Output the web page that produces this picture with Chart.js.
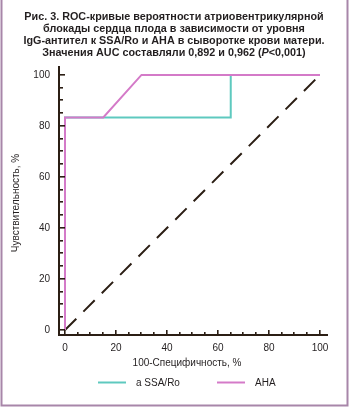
<!DOCTYPE html>
<html>
<head>
<meta charset="utf-8">
<script src="https://cdn.jsdelivr.net/npm/chart.js@4.4.1/dist/chart.umd.min.js"></script>
<style>
  html, body { margin: 0; padding: 0; background: #fff; }
  canvas { display: block; }
</style>
</head>
<body>
<canvas id="roc" width="350" height="408"></canvas>
<script>
// ROC curves: 100-specificity (x, %) vs sensitivity (y, %)
const fprSSA = [0, 0, 65, 65, 100];
const tprSSA = [0, 83.3, 83.3, 100, 100];
const fprAHA = [0, 0, 15, 30, 100];
const tprAHA = [0, 83.3, 83.3, 100, 100];
const refLine = [0, 100];

const seriesNames = ['a SSA/Ro', 'AHA'];
const tickValues = [0, 20, 40, 60, 80, 100];

const titleLines = [
  [['Рис. 3. ROC-кривые вероятности атриовентрикулярной', false]],
  [['блокады сердца плода в зависимости от уровня', false]],
  [['IgG-антител к SSA/Ro и AHA в сыворотке крови матери.', false]],
  [['Значения AUC составляли 0,892 и 0,962 (', false], ['P', true], ['<0,001)', false]]
];
const xTitle = '100-Специфичность, %';
const yTitle = 'Чувствительность, %';

const TEAL = '#5ec9bf';
const PINK = '#d47ac8';
const INK = '#231f20';
const AXIS = '#2b1e14';
const FRAME = '#a886a9';
const FONT = '"Liberation Sans", Arial, sans-serif';

const toPoints = (xs, ys) => xs.map((x, i) => ({ x: x, y: ys[i] }));

const decor = {
  id: 'decor',
  afterDraw(chart) {
    const ctx = chart.ctx;
    const xs = chart.scales.x, ys = chart.scales.y;
    const area = chart.chartArea;
    ctx.save();

    // inward tick marks every 5 units
    ctx.fillStyle = AXIS;
    for (let v = 0; v <= 100; v += 5) {
      const major = v % 20 === 0;
      const py = Math.round(ys.getPixelForValue(v));
      ctx.fillRect(area.left, py - 1, major ? 6 : 4, 1.6);
      const px = Math.round(xs.getPixelForValue(v));
      const lenX = major ? 5 : 3;
      ctx.fillRect(px - 1, area.bottom - lenX, 1.6, lenX);
    }

    // figure title
    ctx.fillStyle = INK;
    ctx.textBaseline = 'middle';
    ctx.textAlign = 'left';
    const cx = 174;
    const titleFont = it => (it ? 'italic ' : '') + 'bold 10.8px ' + FONT;
    titleLines.forEach((segs, i) => {
      const y = 17 + i * 12;
      let total = 0;
      const widths = segs.map(([t, it]) => {
        ctx.font = titleFont(it);
        const w = ctx.measureText(t).width;
        total += w;
        return w;
      });
      let x = cx - total / 2;
      segs.forEach(([t, it], k) => {
        ctx.font = titleFont(it);
        ctx.fillText(t, x, y);
        x += widths[k];
      });
    });

    // axis titles
    ctx.font = '10px ' + FONT;
    ctx.textAlign = 'center';
    ctx.fillText(xTitle, 187, 363);
    ctx.save();
    ctx.translate(16, 203);
    ctx.rotate(-Math.PI / 2);
    ctx.fillText(yTitle, 0, 0);
    ctx.restore();

    // legend
    const legendItems = [
      { ds: chart.data.datasets[1], x: 98 },
      { ds: chart.data.datasets[2], x: 217 }
    ];
    ctx.textAlign = 'left';
    legendItems.forEach(item => {
      ctx.strokeStyle = item.ds.borderColor;
      ctx.lineWidth = 2;
      ctx.beginPath();
      ctx.moveTo(item.x, 382.5);
      ctx.lineTo(item.x + 28, 382.5);
      ctx.stroke();
      ctx.fillStyle = INK;
      ctx.fillText(item.ds.label, item.x + 38, 383);
    });

    // frame
    ctx.strokeStyle = FRAME;
    ctx.lineWidth = 2;
    ctx.beginPath();
    ctx.moveTo(1.5, 0);
    ctx.lineTo(1.5, 405.5);
    ctx.lineTo(347.5, 405.5);
    ctx.lineTo(347.5, 0);
    ctx.stroke();

    ctx.restore();
  }
};

const setTicks = scale => { scale.ticks = tickValues.map(v => ({ value: v })); };

new Chart(document.getElementById('roc'), {
  type: 'scatter',
  data: {
    datasets: [
      {
        label: 'reference',
        data: toPoints(refLine, refLine),
        showLine: true,
        borderColor: AXIS,
        borderWidth: 2,
        borderDash: [16, 10],
        pointRadius: 0,
        fill: false,
        order: 3
      },
      {
        label: seriesNames[0],
        data: toPoints(fprSSA, tprSSA),
        showLine: true,
        borderColor: TEAL,
        borderWidth: 2,
        pointRadius: 0,
        fill: false,
        order: 2
      },
      {
        label: seriesNames[1],
        data: toPoints(fprAHA, tprAHA),
        showLine: true,
        borderColor: PINK,
        borderWidth: 2,
        pointRadius: 0,
        fill: false,
        order: 1
      }
    ]
  },
  options: {
    responsive: false,
    animation: false,
    layout: { padding: { left: 0, top: 67, right: 23, bottom: 0 } },
    plugins: { legend: { display: false }, title: { display: false }, tooltip: { enabled: false } },
    scales: {
      x: {
        type: 'linear',
        min: -2.35,
        max: 102.75,
        afterBuildTicks: setTicks,
        afterFit: s => { s.height = 73; },
        grid: { display: false, drawTicks: false },
        border: { display: true, color: AXIS, width: 2 },
        ticks: { color: INK, font: { family: FONT, size: 10 }, padding: 7, maxRotation: 0 }
      },
      y: {
        type: 'linear',
        min: -1.96,
        max: 103.1,
        afterBuildTicks: setTicks,
        afterFit: s => { s.width = 59; },
        grid: { display: false, drawTicks: false },
        border: { display: true, color: AXIS, width: 2 },
        ticks: { color: INK, font: { family: FONT, size: 10 }, padding: 9 }
      }
    }
  },
  plugins: [decor]
});
</script>
</body>
</html>
